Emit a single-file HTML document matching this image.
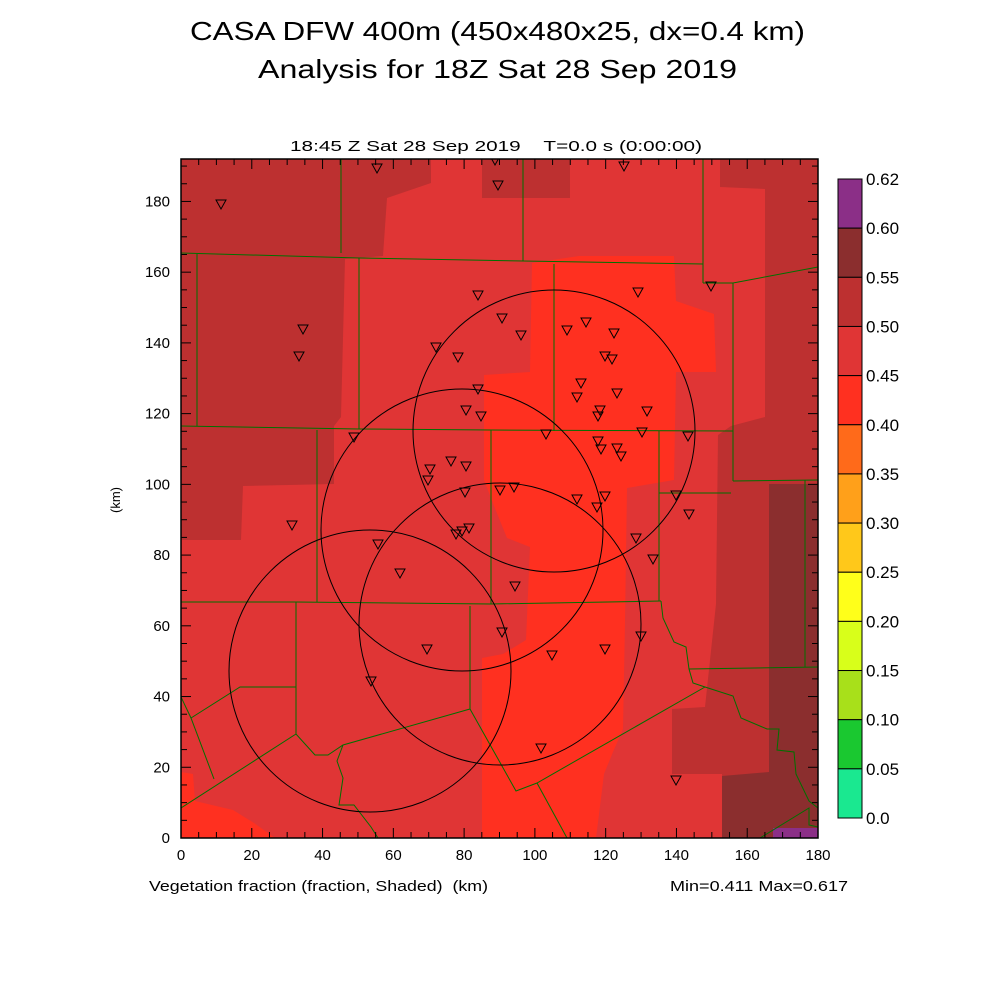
<!DOCTYPE html>
<html><head><meta charset="utf-8"><style>
body{margin:0;background:#fff}
svg{display:block}
text{font-family:"Liberation Sans",sans-serif;fill:#000}
</style></head><body>
<svg id="s" width="1000" height="1000" viewBox="0 0 1000 1000" xmlns="http://www.w3.org/2000/svg">
<text x="190" y="40" font-size="26" textLength="615" lengthAdjust="spacingAndGlyphs">CASA DFW 400m (450x480x25, dx=0.4 km)</text>
<text x="258" y="78" font-size="26" textLength="479" lengthAdjust="spacingAndGlyphs">Analysis for 18Z Sat 28 Sep 2019</text>
<text x="290" y="151" font-size="15" textLength="412" lengthAdjust="spacingAndGlyphs" xml:space="preserve">18:45 Z Sat 28 Sep 2019    T=0.0 s (0:00:00)</text>
<defs><clipPath id="c"><rect x="181" y="159" width="637" height="679"/></clipPath></defs>
<g clip-path="url(#c)">
<rect x="181" y="159" width="637" height="679" fill="#E03535"/>
<polygon fill="#BD3030" points="181,159 431,159 431,183 387,198 383,256 345,259 341,417 334,426 334,484 243,486 241,540 181,540"/>
<polygon fill="#BD3030" points="482,159 570,159 570,198 482,198"/>
<polygon fill="#BD3030" points="720,159 818,159 818,838 722,838 722,774 672,774 672,709 705,707 716,604 718,435 731,426 765,417 765,189 720,187"/>
<polygon fill="#8B2E2E" points="769,484 818,484 818,838 722,838 722,776 769,772"/>
<rect x="773" y="828" width="45" height="10" fill="#8B2F87"/>
<polygon fill="#FF3020" points="532,263 579,256 674,256 676,301 714,314 716,372 676,372 674,480 627,488 625,622 623,729 613,752 604,774 596,838 482,838 482,658 503,654 526,640 530,547 507,538 494,506 484,480 484,375 530,372"/>
<polygon fill="#FF3020" points="181,772 193,774 195,801 233,810 254,823 275,838 181,838"/>
<g fill="none" stroke="#007000" stroke-width="1">
<polyline points="181,253 359,258 523,261 703,264"/>
<line x1="341" y1="159" x2="341" y2="253"/><line x1="523" y1="159" x2="523" y2="261"/><line x1="703" y1="159" x2="703" y2="283"/>
<line x1="197" y1="253" x2="197" y2="426"/>
<polyline points="181,426 359,429 491,430 733,431"/>
<line x1="359" y1="258" x2="359" y2="429"/><line x1="554" y1="264" x2="554" y2="431"/>
<polyline points="703,283 733,283 818,267"/>
<line x1="733" y1="283" x2="733" y2="481"/><polyline points="733,481 818,480"/>
<line x1="805" y1="480" x2="805" y2="667"/><polyline points="689,669 818,667"/>
<line x1="317" y1="430" x2="317" y2="602"/><line x1="491" y1="430" x2="491" y2="604"/>
<line x1="659" y1="431" x2="659" y2="601"/><line x1="659" y1="493" x2="731" y2="493"/>
<polyline points="181,602 296,602 491,604 661,601"/>
<line x1="296" y1="602" x2="296" y2="734"/>
<polyline points="181,697 191,718 214,779"/><polyline points="191,718 240,687 296,687"/>
<polyline points="181,808 296,734 315,755 328,755 343,745 470,709"/>
<line x1="470" y1="606" x2="470" y2="709"/>
<polyline points="470,709 516,791 537,783 705,687"/><line x1="537" y1="783" x2="567" y2="838"/>
<polyline points="343,745 337,761 343,778 339,805 354,805 371,827 378,838"/>
<polyline points="661,601 663,618 674,642 686,647 689,669 693,683 705,687 733,696 741,718 767,729 779,729 777,750 794,752 796,774 809,801 818,808"/>
<polyline points="760,838 809,808 809,825 818,827"/>
</g>
<g fill="none" stroke="#000" stroke-width="1">
<circle cx="554" cy="431" r="141"/><circle cx="462" cy="530" r="141"/>
<circle cx="500" cy="624" r="141"/><circle cx="370" cy="671" r="141"/>
</g>
<g id="tri" fill="none" stroke="#000" stroke-width="1"></g>
</g>
<rect x="181" y="159" width="637" height="679" fill="none" stroke="#000" stroke-width="1.5"/>
<g id="ax" stroke="#000" stroke-width="1"></g>
<g id="lab" font-size="15"></g>
<g id="cb"></g>
<text x="120" y="500" font-size="13" text-anchor="middle" transform="rotate(-90 120 500)">(km)</text>
<text x="149" y="891" font-size="15" textLength="339" lengthAdjust="spacingAndGlyphs" xml:space="preserve">Vegetation fraction (fraction, Shaded)  (km)</text>
<text x="670" y="891" font-size="15" textLength="178" lengthAdjust="spacingAndGlyphs">Min=0.411 Max=0.617</text>
</svg>
<script>
var NS="http://www.w3.org/2000/svg";
function el(p,t,a,txt){var e=document.createElementNS(NS,t);for(var k in a)e.setAttribute(k,a[k]);if(txt!=null)e.textContent=txt;document.getElementById(p).appendChild(e);}
var T=[[221,204],[377,168],[495,160],[498,185],[624,166],[638,292],[711,286],[478,295],[303,329],[299,356],[436,347],[458,357],[502,318],[521,335],[567,330],[586,322],[614,333],[605,356],[612,359],[617,393],[581,383],[577,397],[600,410],[598,416],[647,411],[642,432],[688,436],[598,441],[601,449],[617,448],[621,456],[546,434],[478,389],[466,410],[481,416],[354,437],[451,461],[430,469],[428,480],[466,466],[465,492],[500,490],[514,487],[577,499],[605,496],[597,507],[676,495],[689,514],[636,538],[653,559],[292,525],[378,544],[400,573],[469,528],[462,531],[456,534],[515,586],[502,632],[552,655],[605,649],[641,636],[427,649],[371,681],[541,748],[676,780]];
T.forEach(function(p){var x=p[0],y=p[1];el("tri","polygon",{points:(x-5)+","+(y-4)+" "+(x+5)+","+(y-4)+" "+x+","+(y+5)});});
var sx=637/180, sy=679/192;
for(var k=0;k<=180;k+=5){var x=181+k*sx,L=(k%20==0)?10:6;
el("ax","line",{x1:x,y1:838,x2:x,y2:838-L});el("ax","line",{x1:x,y1:159,x2:x,y2:159+L});
if(k%20==0)el("lab","text",{x:x,y:860,"text-anchor":"middle"},""+k);}
for(var k=0;k<=190;k+=5){var y=838-k*sy,L=(k%20==0)?10:6;
el("ax","line",{x1:181,y1:y,x2:181+L,y2:y});el("ax","line",{x1:818,y1:y,x2:818-L,y2:y});
if(k%20==0)el("lab","text",{x:170,y:y+5,"text-anchor":"end"},""+k);}
var C=["#8B2F87","#8B2E2E","#BD3030","#E03535","#FF3020","#FF6A1A","#FFA01A","#FFC81A","#FFFF1A","#D8FF1A","#A8E01A","#1AC830","#1AE890"];
var Lb=["0.62","0.60","0.55","0.50","0.45","0.40","0.35","0.30","0.25","0.20","0.15","0.10","0.05","0.0"];
var cbTop=179,h=(818-179)/13;
for(var i=0;i<13;i++)el("cb","rect",{x:838,y:cbTop+i*h,width:24,height:h,fill:C[i],stroke:"#000","stroke-width":1});
for(var i=0;i<14;i++)el("cb","text",{x:866,y:cbTop+i*h+6,"font-size":"17"},Lb[i]);
</script>
</body></html>
